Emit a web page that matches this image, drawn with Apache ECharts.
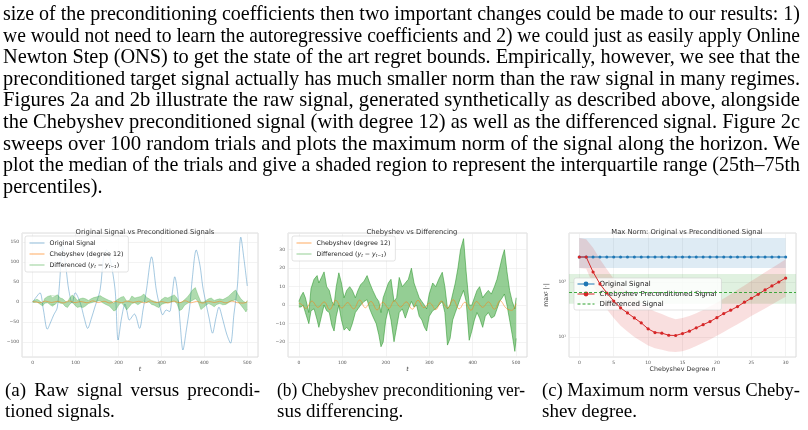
<!DOCTYPE html>
<html><head><meta charset="utf-8">
<script src="https://cdn.jsdelivr.net/npm/echarts@6/dist/echarts.min.js"></script>
<style>
html,body{margin:0;padding:0;background:#fff;}
body{width:808px;height:430px;position:relative;overflow:hidden;}
#chart{position:absolute;left:0;top:0;width:808px;height:430px;}
.tl{position:absolute;white-space:nowrap;font-family:"Liberation Serif","Times New Roman",serif;color:#000;transform-origin:0 0;}
.mk{display:inline-block;width:0;height:0;}
</style></head>
<body>
<div id="chart"></div>
<script>
// ---------------- text ----------------
const paragraphLines = [
 "size of the preconditioning coefficients then two important changes could be made to our results: 1)",
 "we would not need to learn the autoregressive coefficients and 2) we could just as easily apply Online",
 "Newton Step (ONS) to get the state of the art regret bounds. Empirically, however, we see that the",
 "preconditioned target signal actually has much smaller norm than the raw signal in many regimes.",
 "Figures 2a and 2b illustrate the raw signal, generated synthetically as described above, alongside",
 "the Chebyshev preconditioned signal (with degree 12) as well as the differenced signal. Figure 2c",
 "sweeps over 100 random trials and plots the maximum norm of the signal along the horizon. We",
 "plot the median of the trials and give a shaded region to represent the interquartile range (25th\u201375th",
 "percentiles)."
];
const captionA = ["(a) Raw signal versus precondi-", "tioned signals."];
const captionB = ["(b) Chebyshev preconditioning ver-", "sus differencing."];
const captionC = ["(c) Maximum norm versus Cheby-", "shev degree."];
const titles = ["Original Signal vs Preconditioned Signals", "Chebyshev vs Differencing", "Max Norm: Original vs Preconditioned Signal"];

// ---------------- data: panels (a) and (b) ----------------
const origT = [0,8,17,25,34,42,49,57,62,70,78,84,92,99,111,120,128,137,145,157,165,172,180,192,199,207,215,220,225,237,249,257,265,277,288,296,303,311,319,325,331,338,344,350,358,366,372,381,390,396,403,411,419,427,434,442,452,461,469,477,485,492,500];
const origV = [0,12,23,-20,-68,-50,-32,-15,40,140,80,30,-3,23,-3,-40,-66,-40,-12,30,110,130,110,30,-95,-40,-5,-25,-45,-30,-66,-20,30,113,30,-10,-32,-20,-24,20,63,20,-60,-120,-70,-10,60,130,90,40,1,-40,-78,-40,-13,-40,-80,-103,-30,40,162,110,40];

const chebT = [0,6,16,30,44,58,71,85,99,112,126,140,153,166,180,193,207,220,234,247,261,274,288,301,315,328,342,355,369,382,396,409,423,436,450,463,477,490,500];
const chebV = [1,0.5,-1.8,2.2,-1.2,1.8,-2.4,2.6,-1.6,1.4,-2.0,2.8,-1.4,2.0,-2.6,1.6,-1.8,2.4,-1.0,1.8,-2.2,2.6,-1.4,1.2,-2.4,2.2,-1.6,3.0,-2.0,1.6,-2.8,2.0,-1.2,1.8,-2.2,2.4,-1.6,-2.8,0.8];

const diffT  = [0,5,10,15,23,28,35,42,46,52,58,64,70,76,81,86,92,98,104,110,117,123,130,136,142,150,157,163,170,178,184,189,194,200,206,212,219,225,231,238,245,252,259,265,271,277,283,289,294,300,308,315,322,330,336,342,348,354,360,366,372,379,385,392,398,404,410,416,423,429,436,443,450,456,462,468,473,479,485,491,497,500];
const diffLo = [-1,-1,0,-4,-10,-3,-2,-8,-12,-6,0,-3,-4,-11,-14,-6,0,-8,-13.5,-12,-14,-10,-4,-2,0,2,3,-2,-6,-10,-16,-22.5,-20,-8,-2,-8,-19.8,-12,-4,-2,-7,-2,2,-1,0,-6,-8,-12,-14,-6,-3,-2,0,2,-4,-21.6,-18,-8,-4,0,4,8,2,-19,-14,-8,-4,-7,-12,-6,-4,-7,-6,-2,2,4,6,0,-8,-16,-25,-18];
const diffHi = [2,5,7,4,-4,9,14,16,12,15,18,10,8,2,0,10,17.5,12,4,8,10,8,4,8,11,13,16,12,8,4,2,-4,4,8,12,14,2,4,15,10,12,14,20,12,8,4,2,0,-2,6,12,10,14,17.8,10,-2,0,6,12,20,30,36,18,0,0,4,8,10,4,6,8,6,10,14,20,26,30,18,8,2,-2,4];

const xTicksAB = [0,100,200,300,400,500];
const yTicksA = [-100,-50,0,50,100,150];
const yTicksB = [-20,-10,0,10,20,30];

// ---------------- data: panel (c) ----------------
const degrees = [0,1,2,3,4,5,6,7,8,9,10,11,12,13,14,15,16,17,18,19,20,21,22,23,24,25,26,27,28,29,30];
const origMaxMed = [285,285,285,285,285,285,285,285,285,285,285,285,285,285,285,285,285,285,285,285,285,285,285,285,285,285,285,285,285,285,285];
const origMaxLo  = [180,180,180,180,180,180,180,180,180,180,180,180,180,180,180,180,180,180,180,180,180,180,180,180,180,180,180,180,180,180,180];
const origMaxHi  = [631,631,631,631,631,631,631,631,631,631,631,631,631,631,631,631,631,631,631,631,631,631,631,631,631,631,631,631,631,631,631];
const chebMaxMed = [285,285,152,92,63,45,33.7,27.3,22.1,18,14,12,11.7,10.7,10.6,11.5,12.7,14.6,16.7,19,22.4,26.6,30.6,35.6,42.8,50.5,59.7,71.6,84.6,100,118];
const chebMaxLo  = [180,175,90,50,32,22,16,12.5,10,8.3,7,6.2,5.8,5.4,5.3,5.5,6,6.8,7.8,9,10.5,12.3,14.5,17,20,24,28,33,39,46,54];
const chebMaxHi  = [631,600,420,260,170,115,85,65,52,42,34,29,26,23,21,22,24,27,31,36,42,50,60,72,86,104,125,150,180,215,260];
const diffMaxMed = 65.8;
const diffMaxLo = 40;
const diffMaxHi = 140;
const xTicksC = [0,5,10,15,20,25,30];
const yTicksC = [10,100];
const yTickLabelsC = ["10\u00b9","10\u00b2"];

// ---------------- text placement ----------------
function placeLine(text, left, width, baseline, justify, size, forceScale){
  const d = document.createElement('div');
  d.className = 'tl';
  d.style.fontSize = size + 'px';
  d.style.lineHeight = size + 'px';
  d.style.left = left + 'px';
  d.style.top = '0px';
  const s = document.createElement('span');
  s.textContent = text;
  const m = document.createElement('span');
  m.className = 'mk';
  d.appendChild(s); d.appendChild(m);
  document.body.appendChild(d);
  const off = m.getBoundingClientRect().top - d.getBoundingClientRect().top;
  d.style.top = (baseline - off) + 'px';
  const w = s.getBoundingClientRect().width;
  const spaces = (text.match(/ /g) || []).length;
  let sc = 1;
  if (w > width) sc = width / w;
  else if (justify && spaces) s.style.wordSpacing = ((width - w) / spaces) + 'px';
  if (forceScale) sc = forceScale;
  if (sc !== 1) d.style.transform = 'scaleX(' + sc + ')';
  return Math.min(1, width / w);
}
const PARA_SIZE = 21;
const scales = [];
paragraphLines.forEach((t, i) => {
  const last = i === paragraphLines.length - 1;
  const avg = scales.length ? scales.reduce((a, b) => a + b, 0) / scales.length : 1;
  const sc = placeLine(t, 3, 797, 20 + 21.6 * i, !last, PARA_SIZE, last ? avg : null);
  if (!last) scales.push(sc);
});
[[captionA, 5, 255], [captionB, 277, 248], [captionC, 542, 258]].forEach(([c, l, w]) => {
  placeLine(c[0], l, w, 396, true, 19);
  placeLine(c[1], l, w, 417, false, 19);
});

// ---------------- chart ----------------
const FF = 'DejaVu Sans';
const pair = (xs, ys) => xs.map((x, i) => [x, ys[i]]);
const minus = v => (v < 0 ? '\u2212' + Math.abs(v) : String(v));
const tickFmt = ticks => v => {
  for (const t of ticks) if (Math.abs(v - t) < 1e-6) return minus(t);
  return '';
};
const logFmt = v => {
  for (let i = 0; i < yTicksC.length; i++) if (Math.abs(v - yTicksC[i]) / yTicksC[i] < 1e-6) return yTickLabelsC[i];
  return '';
};
const splitL = {show: true, lineStyle: {color: '#ebebeb', width: 0.6}};
const lab = (fmt) => ({fontSize: 4.5, color: '#555', margin: 3, fontFamily: FF, formatter: fmt});

// band polygon drawn through the axes' own scales
function band(xi, yi, xs, lo, hi, fill, z) {
  return {
    type: 'custom', xAxisIndex: xi, yAxisIndex: yi, z: z, silent: true,
    data: xs.map((x, i) => [x, lo[i], hi[i]]),
    encode: {x: 0, y: [1, 2]},
    renderItem: (params, api) => {
      if (params.dataIndex !== 0) return null;
      const top = xs.map((x, i) => api.coord([x, hi[i]]));
      const bot = xs.map((x, i) => api.coord([x, lo[i]])).reverse();
      return {type: 'polygon', shape: {points: top.concat(bot)}, style: {fill: fill}};
    }
  };
}

const hideSym = {opacity: 0};
const legendBase = {
  orient: 'vertical', itemWidth: 15, itemHeight: 6, itemGap: 3,
  padding: [3, 5, 3, 4],
  backgroundColor: 'rgba(255,255,255,0.82)', borderColor: '#d0d0d0', borderWidth: 0.6, borderRadius: 2,
  lineStyle: {width: 1},
  textStyle: {fontSize: 6.3, fontFamily: FF, color: '#222', lineHeight: 8,
    rich: {
      i: {fontSize: 6.3, fontStyle: 'italic', fontFamily: FF, color: '#222', lineHeight: 8},
      s: {fontSize: 4.3, fontStyle: 'italic', fontFamily: FF, color: '#222', verticalAlign: 'bottom', lineHeight: 7}
    }},
  formatter: n => n === 'Differenced' ? 'Differenced ({i|y}{s|t} \u2212 {i|y}{s|t\u22121})' : n
};

const option = {
  animation: false,
  backgroundColor: '#fff',
  title: titles.map((t, i) => ({
    text: t, left: [140, 407, 682][i], top: 223.5, textAlign: 'center',
    textStyle: {fontSize: 6.8, fontWeight: 'normal', color: '#333', fontFamily: FF}
  })),
  grid: [
    {left: 22, top: 233, width: 236, height: 124},
    {left: 288, top: 233, width: 239, height: 124},
    {left: 569, top: 233, width: 227, height: 124}
  ].map(g => Object.assign(g, {show: true, borderColor: '#d4d4d4', borderWidth: 0.8, backgroundColor: '#fff'})),
  xAxis: [
    {type: 'value', gridIndex: 0, min: -25, max: 525, splitNumber: 5, axisLine: {show: false}, axisTick: {show: false}, splitLine: splitL, axisLabel: lab(tickFmt(xTicksAB)),
     name: 't', nameLocation: 'middle', nameGap: 9, nameTextStyle: {fontSize: 6, fontStyle: 'italic', color: '#333', fontFamily: FF}},
    {type: 'value', gridIndex: 1, min: -25, max: 525, splitNumber: 5, axisLine: {show: false}, axisTick: {show: false}, splitLine: splitL, axisLabel: lab(tickFmt(xTicksAB)),
     name: 't', nameLocation: 'middle', nameGap: 9, nameTextStyle: {fontSize: 6, fontStyle: 'italic', color: '#333', fontFamily: FF}},
    {type: 'value', gridIndex: 2, min: -1.5, max: 31.5, splitNumber: 7, axisLine: {show: false}, axisTick: {show: false}, splitLine: splitL, axisLabel: lab(tickFmt(xTicksC)),
     name: 'Chebyshev Degree {i|n}', nameLocation: 'middle', nameGap: 9,
     nameTextStyle: {fontSize: 6.3, color: '#333', fontFamily: FF, rich: {i: {fontSize: 6.3, fontStyle: 'italic', color: '#333', fontFamily: FF}}}}
  ],
  yAxis: [
    {type: 'value', gridIndex: 0, min: -137.5, max: 172.5, splitNumber: 6, axisLine: {show: false}, axisTick: {show: false}, splitLine: splitL, axisLabel: lab(tickFmt(yTicksA))},
    {type: 'value', gridIndex: 1, min: -28.05, max: 39.05, splitNumber: 7, axisLine: {show: false}, axisTick: {show: false}, splitLine: splitL, axisLabel: lab(tickFmt(yTicksB))},
    {type: 'log', logBase: 10, gridIndex: 2, min: 4.3, max: 780, axisLine: {show: false}, axisTick: {show: false}, splitLine: splitL, minorSplitLine: {show: false},
     axisLabel: lab(logFmt),
     name: 'max{s|t} |\u00b7|', nameLocation: 'middle', nameGap: 20, nameRotate: 90,
     nameTextStyle: {fontSize: 6.3, color: '#333', fontFamily: FF, rich: {s: {fontSize: 4.5, color: '#333', fontFamily: FF}}}}
  ],
  legend: [
    Object.assign({}, legendBase, {left: 25, top: 236, itemStyle: hideSym,
      data: ['Original Signal', 'Chebyshev (degree 12)', 'Differenced']}),
    Object.assign({}, legendBase, {left: 292, top: 236, itemStyle: hideSym,
      data: ['Chebyshev (degree 12)', 'Differenced']}),
    Object.assign({}, legendBase, {left: 574, top: 278, itemWidth: 17, itemGap: 2, padding: [2, 5, 2, 3],
      textStyle: {fontSize: 7, fontFamily: FF, color: '#222', lineHeight: 8},
      data: ['Original Signal ', 'Chebyshev Preconditioned Signal', {name: 'Differenced Signal', itemStyle: hideSym}]})
  ],
  series: [
    // ---- (a)
    {name: 'Original Signal', type: 'line', xAxisIndex: 0, yAxisIndex: 0, data: pair(origT, origV), smooth: 0.3, symbol: 'none',
     lineStyle: {width: 0.8, color: 'rgba(31,119,180,0.5)'}, itemStyle: {color: 'rgba(31,119,180,0.5)'}, z: 2},
    band(0, 0, diffT, diffLo, diffHi, 'rgba(44,160,44,0.38)', 3),
    {name: '_dAlo', type: 'line', xAxisIndex: 0, yAxisIndex: 0, data: pair(diffT, diffLo), symbol: 'none', silent: true,
     lineStyle: {width: 0.5, color: 'rgba(44,160,44,0.5)'}, z: 3},
    {name: 'Differenced', type: 'line', xAxisIndex: 0, yAxisIndex: 0, data: pair(diffT, diffHi), symbol: 'none',
     lineStyle: {width: 0.5, color: 'rgba(44,160,44,0.5)'}, itemStyle: {color: 'rgba(44,160,44,0.5)'}, z: 3},
    {name: 'Chebyshev (degree 12)', type: 'line', xAxisIndex: 0, yAxisIndex: 0, data: pair(chebT, chebV), smooth: 0.4, symbol: 'none',
     lineStyle: {width: 0.8, color: 'rgba(255,127,14,0.65)'}, itemStyle: {color: 'rgba(255,127,14,0.6)'}, z: 4},
    // ---- (b)
    band(1, 1, diffT, diffLo, diffHi, 'rgba(60,165,60,0.55)', 3),
    {name: '_dBlo', type: 'line', xAxisIndex: 1, yAxisIndex: 1, data: pair(diffT, diffLo), symbol: 'none', silent: true,
     lineStyle: {width: 0.7, color: 'rgba(44,150,44,0.8)'}, z: 3},
    {name: 'Differenced', type: 'line', xAxisIndex: 1, yAxisIndex: 1, data: pair(diffT, diffHi), symbol: 'none',
     lineStyle: {width: 0.7, color: 'rgba(44,150,44,0.8)'}, itemStyle: {color: 'rgba(44,160,44,0.5)'}, z: 3},
    {name: 'Chebyshev (degree 12)', type: 'line', xAxisIndex: 1, yAxisIndex: 1, data: pair(chebT, chebV), smooth: 0.4, symbol: 'none',
     lineStyle: {width: 0.8, color: 'rgba(255,127,14,0.65)'}, itemStyle: {color: 'rgba(255,127,14,0.6)'}, z: 4},
    // ---- (c)
    band(2, 2, degrees, origMaxLo, origMaxHi, 'rgba(31,119,180,0.15)', 1),
    band(2, 2, degrees, chebMaxLo, chebMaxHi, 'rgba(214,39,40,0.15)', 1),
    {name: 'Differenced Signal', type: 'line', xAxisIndex: 2, yAxisIndex: 2, data: [], symbol: 'none',
     lineStyle: {type: [3, 2], color: '#2ca02c', width: 0.9}, itemStyle: {color: '#2ca02c'}, z: 2,
     markArea: {silent: true, itemStyle: {color: 'rgba(44,160,44,0.15)'}, data: [[{yAxis: diffMaxLo}, {yAxis: diffMaxHi}]]},
     markLine: {silent: true, symbol: 'none', label: {show: false}, lineStyle: {type: [3, 2], color: '#2ca02c', width: 0.9}, data: [{yAxis: diffMaxMed}]}},
    {name: 'Original Signal ', type: 'line', xAxisIndex: 2, yAxisIndex: 2, data: pair(degrees, origMaxMed), symbol: 'circle', symbolSize: 3,
     lineStyle: {width: 1, color: '#1f77b4'}, itemStyle: {color: '#1f77b4'}, z: 4},
    {name: 'Chebyshev Preconditioned Signal', type: 'line', xAxisIndex: 2, yAxisIndex: 2, data: pair(degrees, chebMaxMed), symbol: 'circle', symbolSize: 3.2,
     lineStyle: {width: 1, color: '#d62728'}, itemStyle: {color: '#d62728'}, z: 4}
  ]
};
const chart = echarts.init(document.getElementById('chart'), null, {renderer: 'canvas'});
chart.setOption(option);
</script>
</body></html>
